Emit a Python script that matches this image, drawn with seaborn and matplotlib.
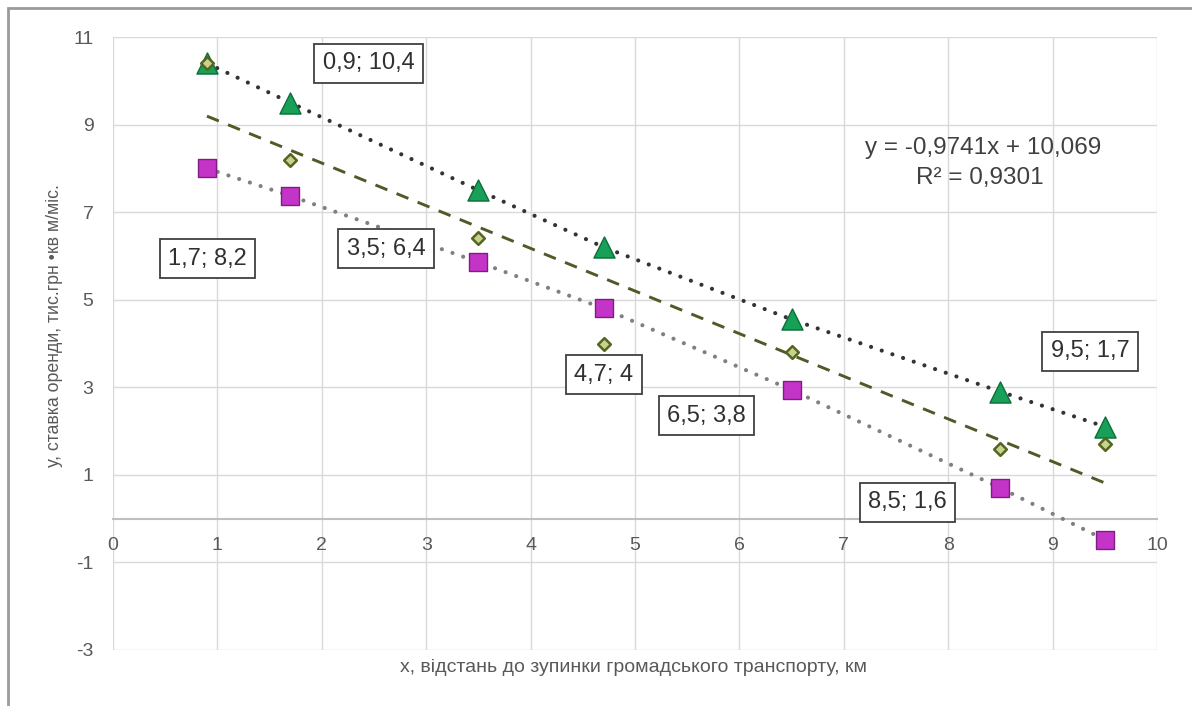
import numpy as np
import matplotlib
matplotlib.use("Agg")
import matplotlib.pyplot as plt
import seaborn as sns
from matplotlib.patches import Rectangle

# ---------------- data ----------------
x_vals = [0.9, 1.7, 3.5, 4.7, 6.5, 8.5, 9.5]
y_actual = [10.4, 8.2, 6.4, 4.0, 3.8, 1.6, 1.7]
y_upper = [10.4, 9.5, 7.5, 6.2, 4.55, 2.9, 2.1]
y_lower = [8.0, 7.37, 5.86, 4.8, 2.94, 0.7, -0.48]

point_labels = ["0,9; 10,4", "1,7; 8,2", "3,5; 6,4", "4,7; 4", "6,5; 3,8", "8,5; 1,6", "9,5; 1,7"]
label_pos_x = [2.45, 0.905, 2.615, 4.70, 5.685, 7.61, 9.36]
label_pos_y = [10.40, 5.94, 6.16, 3.29, 2.35, 0.38, 3.82]

x_ticks = [0, 1, 2, 3, 4, 5, 6, 7, 8, 9, 10]
y_ticks = [-3, -1, 1, 3, 5, 7, 9, 11]

eq_text = "y = -0,9741x + 10,069"
r2_text = "R² = 0,9301"
x_title = "x, відстань до зупинки громадського транспорту, км"
y_title = "у, ставка оренди, тис.грн •кв м/міс."

# ---------------- style ----------------
sns.set_theme(style="white")
plt.rcParams['font.family'] = ['Liberation Sans', 'DejaVu Sans']
plt.rcParams['axes.unicode_minus'] = False
TXT = "#595959"

fig = plt.figure(figsize=(11.92, 7.06), dpi=100)
ax = fig.add_axes([113/1192, 1-650/706, (1157-113)/1192, (650-37)/706])

ax.set_xlim(0, 10)
ax.set_ylim(-3, 11)
ax.set_xticks(x_ticks)
ax.set_yticks(y_ticks)
ax.grid(True, color="#d9d9d9", lw=1.0, zorder=0)
ax.set_axisbelow(True)
for s in ["left", "right", "top"]:
    ax.spines[s].set_visible(False)
ax.spines["bottom"].set_position(("data", 0))
ax.spines["bottom"].set_color("#bfbfbf")
ax.spines["bottom"].set_linewidth(1.5)
ax.tick_params(axis="x", length=0, pad=13.5, labelsize=14, labelcolor=TXT)
ax.tick_params(axis="y", length=0, pad=14, labelsize=14, labelcolor=TXT)

# connecting dotted lines for the bounds
dot = (0, (0.01, 2.7))
sns.lineplot(x=x_vals, y=y_upper, ax=ax, color="#333333", lw=3.0, linestyle=dot,
             dash_capstyle="round", zorder=3, estimator=None, sort=False)
sns.lineplot(x=x_vals, y=y_lower, ax=ax, color="#808080", lw=3.0, linestyle=dot,
             dash_capstyle="round", zorder=3, estimator=None, sort=False)
# linear trend of actual data
sns.regplot(x=x_vals, y=y_actual, scatter=False, ci=None, ax=ax,
            line_kws=dict(color="#4f5a28", lw=2.1, linestyle=(0, (4.4, 3.4)),
                          zorder=3))

# markers
sns.scatterplot(x=x_vals, y=y_upper, marker="^", s=230, color="#18a058",
                edgecolor="#0d6e38", linewidth=1.0, ax=ax, zorder=4)
sns.scatterplot(x=x_vals, y=y_lower, marker="s", s=180, color="#c534c8",
                edgecolor="#7d1f80", linewidth=1.0, ax=ax, zorder=4)
sns.scatterplot(x=x_vals, y=y_actual, marker="D", s=42, color="#c5d38e",
                edgecolor="#55641f", linewidth=1.8, ax=ax, zorder=5)

# point labels
for t, lx, ly in zip(point_labels, label_pos_x, label_pos_y):
    ax.text(lx, ly, t, ha="center", va="center", fontsize=17, color="#303030",
            zorder=6,
            bbox=dict(boxstyle="square,pad=0.36", fc="white", ec="#404040", lw=1.3))

# equation
ax.text(8.33, 8.47, eq_text, ha="center", va="center", fontsize=17.5, color="#404040", zorder=6)
ax.text(8.30, 7.78, r2_text, ha="center", va="center", fontsize=17.5, color="#404040", zorder=6)

# axis titles
fig.text(633/1192, 1 - 668/706, x_title, ha="center", va="center",
         fontsize=14, color=TXT)
fig.text(55/1192, 1 - 326/706, y_title, ha="center", va="center", rotation=90,
         fontsize=12.8, color=TXT)

# outer frame
fig.patches.append(Rectangle((8/1192, -0.05), 1.2, 1 - 8/706 + 0.05, transform=fig.transFigure,
                             fill=False, ec="#9a9a9a", lw=2.0))

fig.savefig("out.png", dpi=100)
